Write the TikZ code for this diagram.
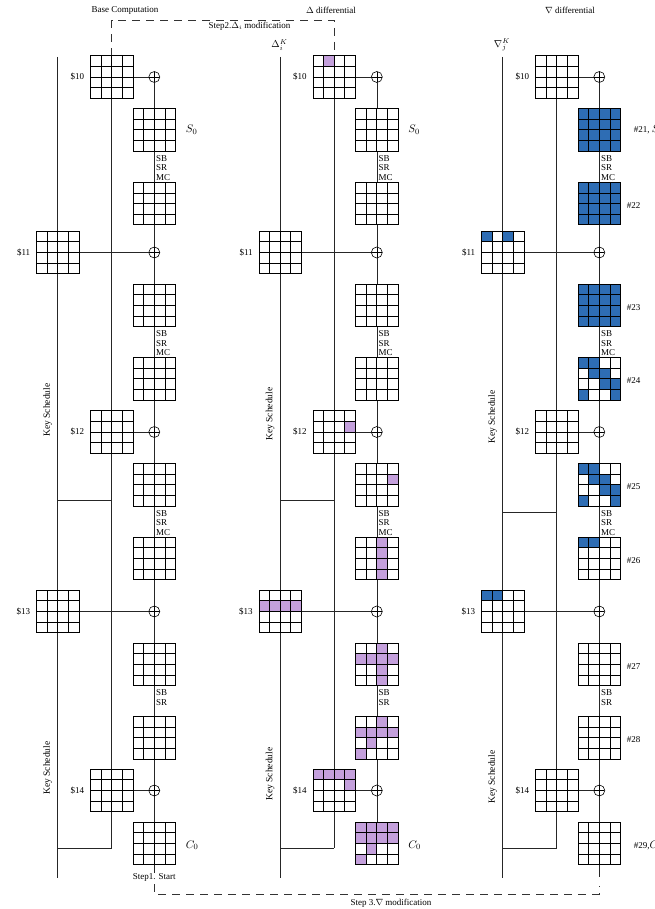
\documentclass[tikz,border=0pt]{standalone}
\usepackage[no-math]{fontspec}
\setmainfont{Liberation Serif}
\usetikzlibrary{calc}
\pgfdeclarelayer{background}
\pgfsetlayers{background,main}
\definecolor{lav}{HTML}{C4A0DC}
\definecolor{nblue}{HTML}{2E6DB4}
\tikzset{
  cellgrid/.style={minimum size=42.6pt, inner sep=0pt, outer sep=0pt, fill=white},
  gline/.style={line width=0.8pt, black},
  conn/.style={line width=0.6pt, black!85},
  xorc/.style={circle, draw, line width=0.6pt, minimum size=11pt, inner sep=0pt, fill=white,
    path picture={\draw[line width=0.6pt] (path picture bounding box.north) -- (path picture bounding box.south) (path picture bounding box.west) -- (path picture bounding box.east);}},
  lbl/.style={font=\fontsize{9}{9.5}\selectfont, inner sep=0pt},
  kslbl/.style={font=\fontsize{9.5}{10}\selectfont, inner sep=0pt, rotate=90},
  oplbl/.style={lbl, align=left, anchor=north west},
  mlbl/.style={font=\fontsize{11}{13}\selectfont, inner sep=0pt, anchor=west},
  dashln/.style={line width=0.8pt, black!80, dash pattern=on 8pt off 6pt},
}
\newcommand{\gridlines}[1]{%
  \foreach \gi in {1,2,3}{%
    \draw[gline] ($(#1.north west)+(\gi*10.65,0)$) -- ++(0,42.6);
    \draw[gline] ($(#1.north west)+(0,\gi*10.65)$) -- ++(42.6,0);
  }%
  \draw[gline] (#1.north west) rectangle (#1.south east);
}
\newcommand{\fillcells}[3]{%
  \foreach \rr/\cc in {#3}{%
    \fill[#2] ($(#1.north west)+(\cc*10.65,\rr*10.65)$) rectangle ++(10.65,10.65);
  }%
}
\newcommand{\fillall}[2]{\fill[#2] (#1.north west) rectangle (#1.south east);}
\newcommand{\drawcol}[5]{%
  \node[cellgrid] (#1k10) at (111.7+#2,77) {};
  \node[cellgrid] (#1k11) at (57.7+#2,252.5) {};
  \node[cellgrid] (#1k12) at (111.7+#2,432) {};
  \node[cellgrid] (#1k13) at (57.7+#2,611.5) {};
  \node[cellgrid] (#1k14) at (111.7+#2,790.5) {};
  \foreach \nm/\yy in {10/77,11/252.5,12/432,13/611.5,14/790.5}{%
    \node[xorc] (#1x\nm) at (154.3+#2,\yy) {};
    \node[lbl,anchor=east] (#1l\nm) at ([xshift=-6pt]#1k\nm.west) {\$\nm};
  }
  \foreach \nm/\yy in {1/129.8,2/203.6,3/305.3,4/378.8,5/484.8,6/558.3,7/664.3,8/737.8,9/843.3}{%
    \node[cellgrid] (#1g\nm) at (154.3+#2,\yy) {};
  }
  \node[oplbl] (#1o1) at ($(#1g1.south)+(1.5,4)$) {SB\\SR\\MC};
  \node[oplbl] (#1o3) at ($(#1g3.south)+(1.5,4)$) {SB\\SR\\MC};
  \node[oplbl] (#1o5) at ($(#1g5.south)+(1.5,4)$) {SB\\SR\\MC};
  \node[oplbl] (#1o7) at ($(#1g7.south)+(1.5,4)$) {SB\\SR};
  \node[kslbl] (#1ks1) at (47.7+#2,#3) {Key Schedule};
  \node[kslbl] (#1ks2) at (47.7+#2,#4) {Key Schedule};
  \coordinate (#1kt) at (57.7+#2,57);
  \coordinate (#1kb) at (57.7+#2,878);
  \coordinate (#1j1o) at (57.7+#2,#5);
  \coordinate (#1j1i) at (111.7+#2,#5);
  \coordinate (#1j2o) at (57.7+#2,848);
  \coordinate (#1j2i) at (111.7+#2,848);
  \begin{pgfonlayer}{background}
    \draw[conn] (#1kt) -- (#1kb);
    \draw[conn] (#1k10.center) -- (#1j2i);
    \draw[conn] (#1j1o) -- (#1j1i);
    \draw[conn] (#1j2o) -- (#1j2i);
    \draw[conn] (#1x10.center) -- (#1g9.center);
    \foreach \nm in {10,11,12,13,14}{\draw[conn] (#1k\nm.east) -- (#1x\nm.west);}
  \end{pgfonlayer}
}
\begin{document}
\begin{tikzpicture}[x=1pt,y=-1pt]
\useasboundingbox (0,0) rectangle (654,909);
\begin{pgfonlayer}{background}
  \fill[white] (0,0) rectangle (654,909);
\end{pgfonlayer}
% titles
\node[lbl] (t1) at (125,10) {Base Computation};
\node[lbl] (t2) at (331,10) {$\Delta$ differential};
\node[lbl] (t3) at (570,10) {$\nabla$ differential};
% columns
\drawcol{a}{0}{410}{768}{500}
\drawcol{b}{222.5}{414}{774}{500}
\drawcol{c}{445}{417}{777}{512}
% key labels on top
\node[font=\fontsize{10}{12}\selectfont, inner sep=0.5pt] (bdk) at (279.5,45) {$\Delta_i^K$};
\node[font=\fontsize{10}{12}\selectfont, inner sep=0.5pt] (cnk) at (502,45) {$\nabla_j^K$};
% state labels
\node[mlbl] (as0) at ([xshift=10pt]ag1.east) {$S_0$};
\node[mlbl] (ac0) at ($(ag9.east)+(10,2)$) {$C_0$};
\node[mlbl] (bs0) at ([xshift=10pt]bg1.east) {$S_0$};
\node[mlbl] (bc0) at ($(bg9.east)+(10,2)$) {$C_0$};
\node[lbl,anchor=west] (c21) at ($(cg1.east)+(13,0)$) {\#21, {\fontsize{11}{13}\selectfont$S_0$}};
\node[lbl,anchor=west] (c22) at ($(cg2.east)+(6,2)$) {\#22};
\node[lbl,anchor=west] (c23) at ($(cg3.east)+(6,2)$) {\#23};
\node[lbl,anchor=west] (c24) at ($(cg4.east)+(6,2)$) {\#24};
\node[lbl,anchor=west] (c25) at ($(cg5.east)+(6,2)$) {\#25};
\node[lbl,anchor=west] (c26) at ($(cg6.east)+(6,2)$) {\#26};
\node[lbl,anchor=west] (c27) at ($(cg7.east)+(6,2)$) {\#27};
\node[lbl,anchor=west] (c28) at ($(cg8.east)+(6,2)$) {\#28};
\node[lbl,anchor=west] (c29) at ($(cg9.east)+(13,2)$) {\#29,{\fontsize{11}{13}\selectfont$C_0$}};
% dashed step 2
\coordinate (d1) at (111.7,20);
\coordinate (d2) at (334.2,20);
\draw[dashln] (ak10.north) -- (d1) -- (d2) -- (bk10.north);
\node[lbl] (st2) at (249.5,26.5) {Step2.$\Delta_i$ modification};
% bottom
\node[lbl] (st1) at (154.3,877) {Step1. Start};
\coordinate (e3) at (599.3,877);
\coordinate (e3d) at (599.3,886);
\coordinate (b1) at (154.3,894);
\coordinate (b2) at (599.3,894);
\begin{pgfonlayer}{background}
  \draw[conn] (ag9.south) -- (st1.north);
  \draw[conn] (cg9.south) -- (e3);
\end{pgfonlayer}
\draw[dashln] ($(st1.south)+(0,3)$) -- (b1) -- (b2) -- (e3d);
\node[lbl] (st3) at (391,903) {Step 3.$\nabla$ modification};
% coloured cells
\fillcells{bk10}{lav}{0/1}
\fillcells{bk12}{lav}{1/3}
\fillcells{bg5}{lav}{1/3}
\fillcells{bg6}{lav}{0/2,1/2,2/2,3/2}
\fillcells{bk13}{lav}{1/0,1/1,1/2,1/3}
\fillcells{bg7}{lav}{0/2,1/0,1/1,1/2,1/3,2/2,3/2}
\fillcells{bg8}{lav}{0/2,1/0,1/1,1/2,1/3,2/1,3/0}
\fillcells{bk14}{lav}{0/0,0/1,0/2,0/3,1/3}
\fillcells{bg9}{lav}{0/0,0/1,0/2,0/3,1/0,1/1,1/2,1/3,2/1,3/0}
\fillall{cg1}{nblue}
\fillall{cg2}{nblue}
\fillall{cg3}{nblue}
\fillcells{ck11}{nblue}{0/0,0/2}
\fillcells{cg4}{nblue}{0/0,0/1,1/1,1/2,2/2,2/3,3/0,3/3}
\fillcells{cg5}{nblue}{0/0,0/1,1/1,1/2,2/2,2/3,3/0,3/3}
\fillcells{cg6}{nblue}{0/0,0/1}
\fillcells{ck13}{nblue}{0/0,0/1}
% grid lines
\foreach \p in {a,b,c}{%
  \foreach \g in {k10,k11,k12,k13,k14,g1,g2,g3,g4,g5,g6,g7,g8,g9}{%
    \gridlines{\p\g}
  }
}
\end{tikzpicture}
\end{document}
